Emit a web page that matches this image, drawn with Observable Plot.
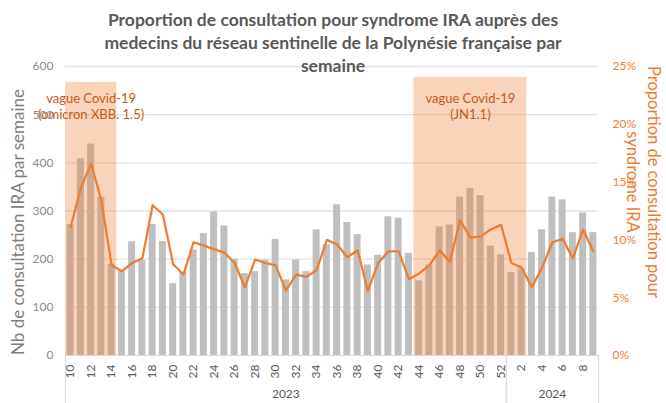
<!DOCTYPE html>
<html>
<head>
<meta charset="utf-8">
<script src="https://cdn.jsdelivr.net/npm/d3@7"></script>
<script src="https://cdn.jsdelivr.net/npm/@observablehq/plot@0.6"></script>
<style>
  body { margin: 0; background: #fff; font-family: Lato, "Open Sans", sans-serif; }
  #wrap { position: relative; width: 666px; height: 403px; overflow: hidden; }
  #chart { position: absolute; left: 0; top: 0; }
  .title { position: absolute; left: 0; top: 8px; width: 666px; text-align: center;
           font-weight: bold; font-size: 17.5px; line-height: 23px; color: #595959; }
  .ytitle { position: absolute; width: 400px; text-align: center; font-size: 17px;
            line-height: 20px; color: #7f7f7f; left: -182px; top: 212px; transform: rotate(-90deg); }
  .y2title { position: absolute; width: 300px; text-align: center; font-size: 16.5px;
             line-height: 21px; color: #ed7d31; left: 493px; top: 161px; transform: rotate(90deg); }
</style>
</head>
<body>
<div id="wrap">
  <div id="chart"></div>
  <div class="title">Proportion de consultation pour syndrome IRA auprès des<br>medecins du réseau sentinelle de la Polynésie française par<br>semaine</div>
  <div class="ytitle">Nb de consultation IRA par semaine</div>
  <div class="y2title">Proportion de consultation pour<br>syndrome IRA</div>
</div>
<script>
// ---- data ----
const weeks2023 = [10,11,12,13,14,15,16,17,18,19,20,21,22,23,24,25,26,27,28,29,30,31,32,33,34,35,36,37,38,39,40,41,42,43,44,45,46,47,48,49,50,51,52];
const weeks2024 = [1,2,3,4,5,6,7,8,9];
const years = ["2023", "2024"];
// Nb de consultation IRA par semaine
const counts = [272,408,439,329,190,176,236,197,272,237,149,173,219,253,298,269,200,170,174,198,241,157,198,174,261,230,313,276,251,188,208,288,285,212,155,188,267,271,329,347,332,227,209,
                172,180,214,261,329,323,255,296,255];
// Proportion de consultation pour syndrome IRA (%)
const pctIRA = [11.1,14.5,16.6,13.4,7.8,7.3,8.0,8.4,13.0,12.2,7.9,7.0,9.8,9.5,9.2,8.9,8.0,5.9,8.3,8.0,7.8,5.6,7.0,6.8,7.4,10.0,9.6,8.5,9.1,5.6,8.0,9.0,9.0,6.6,7.1,7.8,9.1,8.1,11.7,10.2,10.3,10.9,11.3,
                8.0,7.6,5.9,7.6,9.8,10.1,8.4,10.9,9.0];
const waveLabels = ["vague Covid-19\n(omicron XBB. 1.5)", "vague Covid-19\n(JN1.1)"];
const waveStart = ["2023-10", "2023-44"];
const waveEnd = ["2023-14", "2024-2"];
const leftTicks = [0,100,200,300,400,500,600];
const rightTicksPct = [0,5,10,15,20,25];

// ---- build tables ----
const rows = [
  ...weeks2023.map(w => ({year: "2023", week: w})),
  ...weeks2024.map(w => ({year: "2024", week: w}))
].map((d, i) => ({...d, i, key: `${d.year}-${d.week}`, count: counts[i], pct: pctIRA[i]}));
const idx = new Map(rows.map(d => [d.key, d.i]));
const waves = waveLabels.map((label, k) => ({label, i0: idx.get(waveStart[k]), i1: idx.get(waveEnd[k]), k}));
const yearGroups = years.map(y => {
  const r = rows.filter(d => d.year === y);
  return {year: y, i0: r[0].i, i1: r[r.length - 1].i};
});
const boundaries = [-0.5, ...yearGroups.map(g => g.i1 + 0.5)];
const pctToCount = 600 / 25; // right axis maps 25% onto 600
const tickIdx = rows.filter(d => d.week % 2 === 0).map(d => d.i);

const chart = Plot.plot({
  width: 666,
  height: 403,
  marginLeft: 65,
  marginRight: 68,
  marginTop: 66,
  marginBottom: 48,
  style: {fontFamily: "Lato, 'Open Sans', sans-serif", background: "transparent", overflow: "visible"},
  x: {domain: [-0.5, rows.length - 0.5]},
  y: {domain: [0, 600]},
  marks: [
    Plot.ruleY(leftTicks.filter(t => t > 0), {stroke: "#e3e3e3", strokeWidth: 1.3}),
    Plot.rectY(rows, {x1: d => d.i - 0.34, x2: d => d.i + 0.34, y: "count", fill: "#bfbfbf"}),
    Plot.rect(waves, {x1: d => d.i0 - 0.5, x2: d => d.i1 + 0.5, y1: 0, y2: d => d.k === 0 ? 567 : 577,
                      fill: "#ed7d31", fillOpacity: 0.33}),
    Plot.line(rows, {x: "i", y: d => d.pct * pctToCount, stroke: "#ed7d31", strokeWidth: 2.25}),
    Plot.text(waves, {x: d => (d.i0 + d.i1) / 2, y: 519, text: "label", fill: "#c55a11",
                      fontSize: 13, lineHeight: 1.25, lineAnchor: "middle"}),
    Plot.ruleY([0], {stroke: "#d9d9d9", strokeWidth: 1.2}),
    Plot.ruleX(boundaries, {x: d => d, y1: 0, y2: -100, stroke: "#d9d9d9", strokeWidth: 1.2}),
    Plot.axisX({ticks: tickIdx, tickFormat: i => String(rows[i].week), tickRotate: -90, tickSize: 0,
                tickPadding: 9, fontSize: 12, color: "#595959", label: null}),
    Plot.text(yearGroups, {x: d => (d.i0 + d.i1) / 2, text: "year", frameAnchor: "bottom", dy: 42,
                           fontSize: 12, fill: "#595959"}),
    Plot.axisY({anchor: "left", ticks: leftTicks, tickSize: 0, tickPadding: 12, fontSize: 12,
                color: "#8c8c8c", label: null}),
    Plot.axisY({anchor: "right", ticks: rightTicksPct.map(p => p * pctToCount),
                tickFormat: d => `${Math.round(d / pctToCount)}%`, tickSize: 0, tickPadding: 14,
                fontSize: 12, color: "#ed7d31", label: null})
  ]
});
document.getElementById("chart").appendChild(chart);
</script>
</body>
</html>
